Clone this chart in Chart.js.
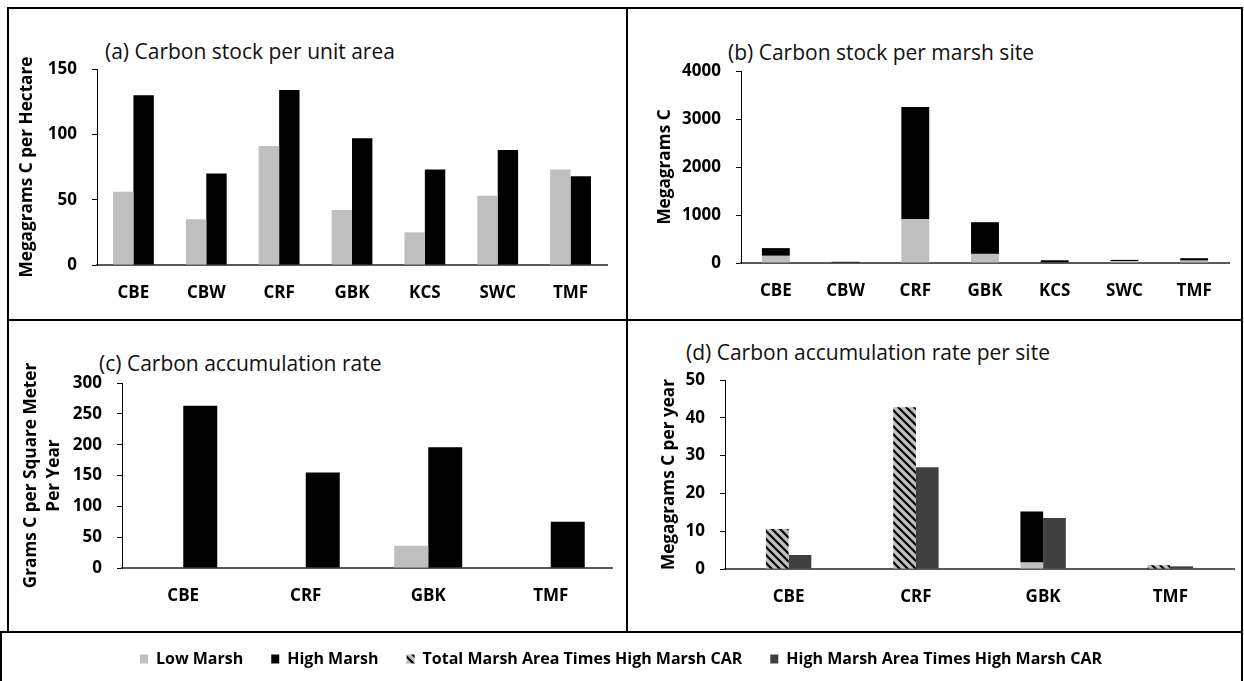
<!DOCTYPE html>
<html>
<head>
<meta charset="utf-8">
<script src="https://cdn.jsdelivr.net/npm/chart.js@4.4.0/dist/chart.umd.min.js"></script>
<style>
  body { margin: 0; background: #fff; width: 1244px; height: 681px; overflow: hidden; position: relative; font-family: 'Open Sans', sans-serif; }
  .ln { position: absolute; background: #000; }
  canvas { position: absolute; }
  .ttl { position: absolute; font-size: 21px; line-height: 20px; color: #111; white-space: nowrap; }
</style>
</head>
<body>
<!-- panel frames -->
<div class="ln" style="left:7px;top:7px;width:1236px;height:2px"></div>
<div class="ln" style="left:7px;top:7px;width:2px;height:626px"></div>
<div class="ln" style="left:1241px;top:7px;width:2px;height:674px"></div>
<div class="ln" style="left:626px;top:7px;width:2px;height:626px"></div>
<div class="ln" style="left:7px;top:319px;width:1236px;height:2px"></div>
<div class="ln" style="left:0;top:631px;width:1243px;height:2px"></div>
<div class="ln" style="left:0;top:631px;width:2px;height:50px"></div>

<div class="ttl" style="left:105px;top:41px">(a) Carbon stock per unit area</div>
<div class="ttl" style="left:728px;top:42px">(b) Carbon stock per marsh site</div>
<div class="ttl" style="left:99px;top:353px">(c) Carbon accumulation rate</div>
<div class="ttl" style="left:686px;top:342px">(d) Carbon accumulation rate per site</div>

<canvas id="chartA" width="616" height="309" style="left:9px;top:9px"></canvas>
<canvas id="chartB" width="611" height="309" style="left:629px;top:9px"></canvas>
<canvas id="chartC" width="616" height="309" style="left:9px;top:322px"></canvas>
<canvas id="chartD" width="611" height="309" style="left:629px;top:322px"></canvas>
<canvas id="legend" width="1238" height="160" style="left:2px;top:620px"></canvas>

<script>
const sitesAll = ['CBE', 'CBW', 'CRF', 'GBK', 'KCS', 'SWC', 'TMF'];
const sitesCar = ['CBE', 'CRF', 'GBK', 'TMF'];

// (a) Mg C per hectare
const stockLow = [56, 35, 91, 42, 25, 53, 73];
const stockHigh = [130, 70, 134, 97, 73, 88, 68];

// (b) Mg C per marsh site (stacked)
const siteLow = [150, 8, 910, 190, 12, 40, 50];
const siteHigh = [160, 17, 2340, 660, 45, 25, 50];

// (c) g C per m2 per year
const carLow = [null, null, 36, null];
const carHigh = [263, 155, 196, 75];

// (d) Mg C per year per site
const siteCarLow = [null, null, 1.7, null];
const siteCarHigh = [null, null, 13.5, null];
const siteCarTotal = [10.6, 42.8, null, 1.0];
const siteCarHighArea = [3.7, 26.9, 13.5, 0.7];

const grey = '#bfbfbf';
const black = '#000000';
const dark = '#404040';

Chart.defaults.font.family = "'Open Sans', sans-serif";
Chart.defaults.color = '#000';

function makeHatch() {
    const c = document.createElement('canvas');
    c.width = 8;
    c.height = 8;
    const g = c.getContext('2d');
    g.fillStyle = grey;
    g.fillRect(0, 0, 8, 8);
    g.strokeStyle = '#000';
    g.lineWidth = 2.2;
    g.beginPath();
    g.moveTo(-2, -2); g.lineTo(10, 10);
    g.moveTo(-2, 6); g.lineTo(2, 10);
    g.moveTo(6, -2); g.lineTo(10, 2);
    g.stroke();
    return g.createPattern(c, 'repeat');
}
const hatch = makeHatch();

const tickFont = { size: 17, weight: 'bold' };

function yScale(max, step, title, width, titlePad, stacked, lineHeight) {
    return {
        stacked: stacked,
        min: 0,
        max: max,
        ticks: { stepSize: step, padding: 15, font: tickFont, callback: v => v },
        grid: { drawOnChartArea: false, drawTicks: true, tickLength: 5, color: '#000' },
        border: { color: '#000', width: 1 },
        title: {
            display: true,
            text: title,
            font: { size: 17.2, weight: 'bold', lineHeight: lineHeight || 1.2 },
            padding: { top: titlePad, bottom: 0 }
        },
        afterFit: s => { s.width = width; }
    };
}

function xScale(stacked) {
    return {
        stacked: stacked,
        grid: { display: false, drawTicks: false },
        border: { color: '#595959', width: 2 },
        ticks: { padding: 18, font: tickFont },
        afterFit: s => { s.height = 40; }
    };
}

function baseOptions(pad, catPct, xs, ys) {
    return {
        responsive: false,
        animation: false,
        layout: { padding: pad },
        datasets: { bar: { barPercentage: 1, categoryPercentage: catPct } },
        plugins: { legend: { display: false } },
        scales: { x: xs, y: ys }
    };
}

// (a)
new Chart(document.getElementById('chartA'), {
    type: 'bar',
    data: {
        labels: sitesAll,
        datasets: [
            { label: 'Low Marsh', data: stockLow, backgroundColor: grey },
            { label: 'High Marsh', data: stockHigh, backgroundColor: black }
        ]
    },
    options: baseOptions({ left: 0, right: 18, top: 60, bottom: 13 }, 0.56,
        xScale(false), yScale(150, 50, 'Megagrams C per Hectare', 88, 8, false))
});

// (b)
new Chart(document.getElementById('chartB'), {
    type: 'bar',
    data: {
        labels: sitesAll,
        datasets: [
            { label: 'Low Marsh', data: siteLow, backgroundColor: grey },
            { label: 'High Marsh', data: siteHigh, backgroundColor: black }
        ]
    },
    options: baseOptions({ left: 0, right: 11, top: 62, bottom: 15 }, 0.4,
        xScale(true), yScale(4000, 1000, 'Megagrams C', 112, 26, true))
});

// (c)
new Chart(document.getElementById('chartC'), {
    type: 'bar',
    data: {
        labels: sitesCar,
        datasets: [
            { label: 'Low Marsh', data: carLow, backgroundColor: grey },
            { label: 'High Marsh', data: carHigh, backgroundColor: black }
        ]
    },
    options: baseOptions({ left: 0, right: 13, top: 61, bottom: 23 }, 0.555,
        xScale(false), yScale(300, 50, ['Grams C per Square Meter', 'Per Year'], 113, 10, false, 1.35))
});

// (d)
new Chart(document.getElementById('chartD'), {
    type: 'bar',
    data: {
        labels: sitesCar,
        datasets: [
            { label: 'Low Marsh', data: siteCarLow, backgroundColor: grey, stack: 'total' },
            { label: 'High Marsh', data: siteCarHigh, backgroundColor: black, stack: 'total' },
            { label: 'Total Marsh Area Times High Marsh CAR', data: siteCarTotal, backgroundColor: hatch, stack: 'total' },
            { label: 'High Marsh Area Times High Marsh CAR', data: siteCarHighArea, backgroundColor: dark, stack: 'high' }
        ]
    },
    options: baseOptions({ left: 0, right: 6, top: 58, bottom: 22 }, 0.357,
        xScale(true), yScale(50, 10, 'Megagrams C per year', 96, 30, true))
});

// shared legend
new Chart(document.getElementById('legend'), {
    type: 'bar',
    data: {
        labels: [],
        datasets: [
            { label: 'Low Marsh', data: [], backgroundColor: grey, borderWidth: 0 },
            { label: 'High Marsh', data: [], backgroundColor: black, borderWidth: 0 },
            { label: 'Total Marsh Area Times High Marsh CAR', data: [], backgroundColor: hatch, borderWidth: 0 },
            { label: 'High Marsh Area Times High Marsh CAR', data: [], backgroundColor: dark, borderWidth: 0 }
        ]
    },
    options: {
        responsive: false,
        animation: false,
        layout: { padding: { top: 3 } },
        scales: { x: { display: false }, y: { display: false } },
        plugins: {
            tooltip: { enabled: false },
            legend: {
                labels: { boxWidth: 8, boxHeight: 9, padding: 28, color: '#000', font: { size: 16, weight: 'bold' } }
            }
        }
    }
});
</script>
</body>
</html>
